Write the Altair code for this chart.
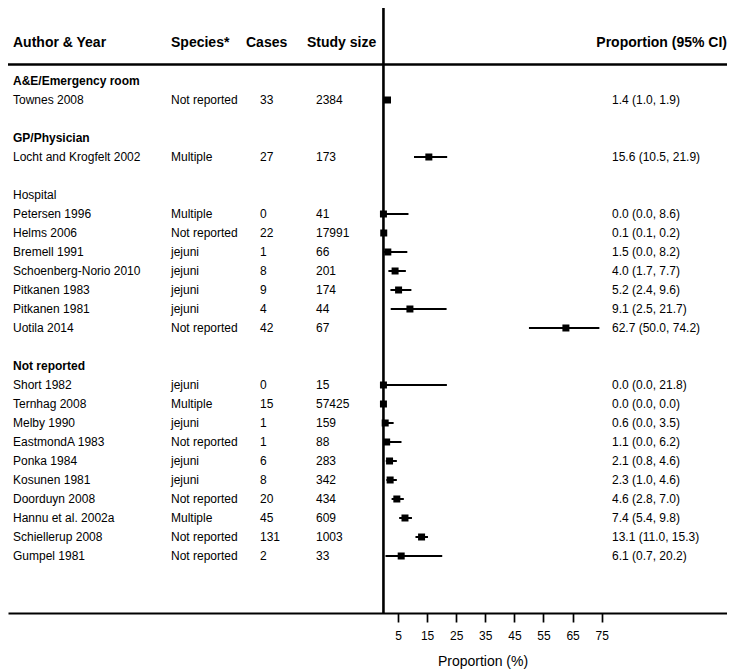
import altair as alt
import pandas as pd

# ---------------- data ----------------
groups = ["A&E/Emergency room", "GP/Physician", "Hospital", "Not reported"]
group_bold = [True, True, False, True]

study_group = [0, 1, 2, 2, 2, 2, 2, 2, 2, 3, 3, 3, 3, 3, 3, 3, 3, 3, 3]
authors = [
    "Townes 2008",
    "Locht and Krogfelt 2002",
    "Petersen 1996", "Helms 2006", "Bremell 1991", "Schoenberg-Norio 2010",
    "Pitkanen 1983", "Pitkanen 1981", "Uotila 2014",
    "Short 1982", "Ternhag 2008", "Melby 1990", "EastmondA 1983", "Ponka 1984",
    "Kosunen 1981", "Doorduyn 2008", "Hannu et al. 2002a", "Schiellerup 2008",
    "Gumpel 1981",
]
species = [
    "Not reported",
    "Multiple",
    "Multiple", "Not reported", "jejuni", "jejuni", "jejuni", "jejuni", "Not reported",
    "jejuni", "Multiple", "jejuni", "Not reported", "jejuni", "jejuni",
    "Not reported", "Multiple", "Not reported", "Not reported",
]
cases = [33, 27, 0, 22, 1, 8, 9, 4, 42, 0, 15, 1, 1, 6, 8, 20, 45, 131, 2]
sizes = [2384, 173, 41, 17991, 66, 201, 174, 44, 67, 15, 57425, 159, 88, 283,
         342, 434, 609, 1003, 33]
est = [1.4, 15.6, 0.0, 0.1, 1.5, 4.0, 5.2, 9.1, 62.7, 0.0, 0.0, 0.6, 1.1, 2.1,
       2.3, 4.6, 7.4, 13.1, 6.1]
lo = [1.0, 10.5, 0.0, 0.1, 0.0, 1.7, 2.4, 2.5, 50.0, 0.0, 0.0, 0.0, 0.0, 0.8,
      1.0, 2.8, 5.4, 11.0, 0.7]
hi = [1.9, 21.9, 8.6, 0.2, 8.2, 7.7, 9.6, 21.7, 74.2, 21.8, 0.0, 3.5, 6.2, 4.6,
      4.6, 7.0, 9.8, 15.3, 20.2]

tick_values = [5, 15, 25, 35, 45, 55, 65, 75]
col_headers = ["Author & Year", "Species*", "Cases", "Study size"]

# ---------------- build tables ----------------
grp_rows, study_rows = [], []
r = 0
for gi, g in enumerate(groups):
    grp_rows.append({"row": r, "label": g, "bold": group_bold[gi]})
    r += 1
    for si, sg in enumerate(study_group):
        if sg == gi:
            study_rows.append({
                "row": r, "author": authors[si], "species": species[si],
                "cases": str(cases[si]), "size": str(sizes[si]),
                "est": est[si], "lo": lo[si], "hi": hi[si],
                "ci": f"{est[si]:.1f} ({lo[si]:.1f}, {hi[si]:.1f})",
            })
            r += 1
    r += 1

gdf = pd.DataFrame(grp_rows)
sdf = pd.DataFrame(study_rows)

# ---------------- scales ----------------
W, H = 719, 605
FONT = "Liberation Sans"
xscale = alt.Scale(domain=[-129.02, 118.06], nice=False, zero=False)
yscale = alt.Scale(domain=[-3.842, -3.842 + H / 19.0], reverse=True, nice=False, zero=False)
xaxis = alt.Axis(
    values=tick_values, title="Proportion (%)", grid=False,
    tickSize=9, tickWidth=1.7, tickColor="black",
    domainColor="black", domainWidth=2,
    labelFontSize=12, labelFont=FONT, labelColor="black", labelPadding=8,
    titleFontSize=14, titleFont=FONT, titleFontWeight="normal", titleColor="black",
    titleX=474.5, titleY=48, titleBaseline="middle", titleAlign="center", titleAnchor="start",
)


def X(field):
    return alt.X(field, type="quantitative", scale=xscale, axis=xaxis)


Y = alt.Y("row:Q", scale=yscale, axis=None)

base = alt.Chart(sdf)


def col_text(field, xpix):
    return base.mark_text(align="left", baseline="middle", fontSize=12, font=FONT,
                          color="black").encode(x=alt.value(xpix), y=Y, text=f"{field}:N")


authors_t = col_text("author", 5)
species_t = col_text("species", 163)
cases_t = col_text("cases", 252)
size_t = col_text("size", 308)
ci_t = col_text("ci", 604)

grp_bold_t = alt.Chart(gdf).transform_filter("datum.bold").mark_text(
    align="left", baseline="middle", fontSize=12, font=FONT, fontWeight="bold", color="black"
).encode(x=alt.value(5), y=Y, text="label:N")
grp_norm_t = alt.Chart(gdf).transform_filter("!datum.bold").mark_text(
    align="left", baseline="middle", fontSize=12, font=FONT, color="black"
).encode(x=alt.value(5), y=Y, text="label:N")

ci_rules = base.mark_rule(color="black", strokeWidth=2).encode(
    x=X("lo"), x2="hi", y=Y)
squares = base.mark_square(size=49, color="black", opacity=1).encode(x=X("est"), y=Y)

zero_df = pd.DataFrame({"zero": [0]})
vline = alt.Chart(zero_df).mark_rule(color="black", strokeWidth=2.6).encode(
    x=X("zero"), y=alt.value(0), y2=alt.value(H))

hline = alt.Chart(zero_df).mark_rule(color="black", strokeWidth=2.4).encode(
    x=alt.value(0), x2=alt.value(W), y=alt.value(56.5))

hdr_layers = []
for lab, xp in zip(col_headers, [5, 163, 238, 299]):
    hdr_layers.append(
        alt.Chart(pd.DataFrame({"label": [lab]})).mark_text(
            align="left", baseline="middle", fontSize=14, font=FONT, fontWeight="bold",
            color="black").encode(x=alt.value(xp), y=alt.value(34.5), text="label:N"))
hdr_layers.append(
    alt.Chart(pd.DataFrame({"label": ["Proportion (95% CI)"]})).mark_text(
        align="right", baseline="middle", fontSize=14, font=FONT, fontWeight="bold",
        color="black").encode(x=alt.value(W), y=alt.value(34.5), text="label:N"))

chart = alt.layer(
    vline, hline, ci_rules, squares,
    grp_bold_t, grp_norm_t, authors_t, species_t, cases_t, size_t, ci_t,
    *hdr_layers,
).properties(
    width=W, height=H,
    padding={"left": 0, "top": 0, "right": 0, "bottom": 60},
    autosize=alt.AutoSizeParams(type="none"),
).configure_view(stroke=None)

chart.save("out.html", embed_options={"renderer": "svg", "actions": False})
